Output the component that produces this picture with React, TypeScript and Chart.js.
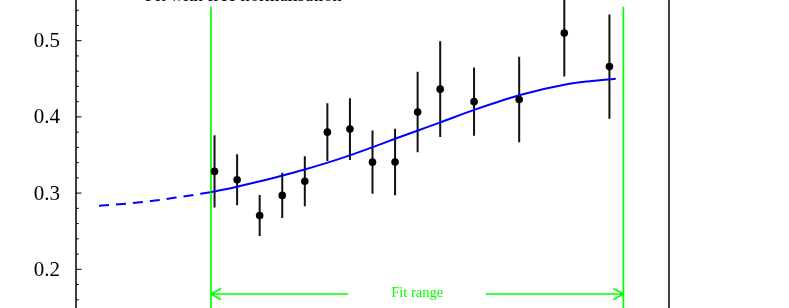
import React, { useEffect, useRef } from "react";
import { Chart, registerables } from "chart.js";

Chart.register(...registerables);

// ---- data ----
const pointX = [3.0, 3.5, 4.0, 4.5, 5.0, 5.5, 6.0, 6.5, 7.0, 7.5, 8.0, 8.75, 9.75, 10.75, 11.75];
const pointY = [0.3285, 0.3175, 0.2706, 0.297, 0.3155, 0.38, 0.384, 0.3406, 0.3408, 0.4064, 0.4364, 0.42, 0.4228, 0.51, 0.466];
const pointErr = [0.0475, 0.0335, 0.027, 0.0296, 0.0328, 0.038, 0.0405, 0.0414, 0.0437, 0.0529, 0.0628, 0.0447, 0.0562, 0.057, 0.0683];

const fitX = [2.92, 3.45, 3.96, 4.45, 4.96, 5.47, 5.98, 6.49, 6.97, 7.51, 7.99, 8.77, 9.79, 10.78, 11.31, 11.76, 11.89];
const fitY = [0.3013, 0.3078, 0.3148, 0.3222, 0.3303, 0.3393, 0.3492, 0.36, 0.3706, 0.3822, 0.3925, 0.4095, 0.429, 0.4425, 0.4468, 0.4495, 0.45];

const extrapX = [0.44, 1.12, 1.68, 2.23, 2.92];
const extrapY = [0.2835, 0.2866, 0.2902, 0.2949, 0.3013];

const fitRange = [2.92, 12.06];
const fitLineTop = 0.5446;
const arrowY = 0.1676;
const arrowGap = [5.96, 9.01];
const fitRangeLabel = "Fit range";
const titleText = "Fit with free normalisation";
const titlePos = { x: 1.46, y: 0.5522 };

const yTickLabels = [0.1, 0.2, 0.3, 0.4, 0.5, 0.6];
const X_MIN = -0.07;
const X_MAX = 13.07;
const Y_MIN = 0.1;
const Y_MAX = 0.6;

const GREEN = "#00ff00";
const BLUE = "#0000ff";
const SERIF = "'Liberation Serif', 'DejaVu Serif', serif";

const rootPlugin = {
  id: "rootStyle",
  beforeDatasetsDraw(chart: any) {
    const { ctx, chartArea } = chart;
    const xs = chart.scales.x;
    const ys = chart.scales.y;
    ctx.save();
    ctx.beginPath();
    ctx.rect(chartArea.left, chartArea.top, chartArea.right - chartArea.left, chartArea.bottom - chartArea.top);
    ctx.clip();
    ctx.strokeStyle = "#111";
    ctx.lineWidth = 2;
    for (let i = 0; i < pointX.length; i++) {
      const px = xs.getPixelForValue(pointX[i]);
      ctx.beginPath();
      ctx.moveTo(px, ys.getPixelForValue(pointY[i] + pointErr[i]));
      ctx.lineTo(px, ys.getPixelForValue(pointY[i] - pointErr[i]));
      ctx.stroke();
    }
    ctx.restore();
  },
  afterDraw(chart: any) {
    const { ctx, chartArea } = chart;
    const xs = chart.scales.x;
    const ys = chart.scales.y;
    ctx.save();
    // frame
    ctx.strokeStyle = "#000";
    ctx.lineWidth = 1.5;
    ctx.strokeRect(chartArea.left, chartArea.top, chartArea.right - chartArea.left, chartArea.bottom - chartArea.top);
    // y ticks inside
    ctx.lineWidth = 1;
    for (let k = 0; k <= 25; k++) {
      const v = Y_MIN + k * 0.02;
      const y = ys.getPixelForValue(v);
      const major = k % 5 === 0;
      ctx.beginPath();
      ctx.moveTo(chartArea.left, y);
      ctx.lineTo(chartArea.left + (major ? 5.5 : 2.8), y);
      ctx.stroke();
    }
    // y tick labels
    ctx.fillStyle = "#000";
    ctx.font = `21px ${SERIF}`;
    ctx.textAlign = "right";
    ctx.textBaseline = "middle";
    for (const v of yTickLabels) {
      ctx.fillText(v.toFixed(1), chartArea.left - 16, ys.getPixelForValue(v) + 1);
    }
    // fit range arrow
    const ay = ys.getPixelForValue(arrowY);
    const l = xs.getPixelForValue(fitRange[0]);
    const r = xs.getPixelForValue(fitRange[1]);
    const gl = xs.getPixelForValue(arrowGap[0]);
    const gr = xs.getPixelForValue(arrowGap[1]);
    ctx.strokeStyle = GREEN;
    ctx.lineWidth = 1.5;
    ctx.beginPath();
    ctx.moveTo(l, ay);
    ctx.lineTo(gl, ay);
    ctx.moveTo(l + 10, ay - 5.5);
    ctx.lineTo(l, ay);
    ctx.lineTo(l + 10, ay + 5.5);
    ctx.moveTo(gr, ay);
    ctx.lineTo(r, ay);
    ctx.moveTo(r - 10, ay - 5.5);
    ctx.lineTo(r, ay);
    ctx.lineTo(r - 10, ay + 5.5);
    ctx.stroke();
    ctx.fillStyle = GREEN;
    ctx.font = `14.5px ${SERIF}`;
    ctx.textAlign = "center";
    ctx.textBaseline = "alphabetic";
    ctx.fillText(fitRangeLabel, (l + r) / 2, ay + 3.5);
    // title text
    ctx.fillStyle = "#000";
    ctx.font = `18.4px ${SERIF}`;
    ctx.textAlign = "left";
    ctx.fillText(titleText, xs.getPixelForValue(titlePos.x), ys.getPixelForValue(titlePos.y));
    ctx.restore();
  },
};

export default function App() {
  const ref = useRef<HTMLCanvasElement>(null);
  useEffect(() => {
    if (!ref.current) return;
    const chart = new Chart(ref.current, {
      type: "scatter",
      data: {
        datasets: [
          {
            label: "fit",
            data: fitX.map((x, i) => ({ x, y: fitY[i] })),
            showLine: true,
            borderColor: BLUE,
            borderWidth: 2,
            pointRadius: 0,
            cubicInterpolationMode: "monotone",
            order: 2,
          },
          {
            label: "extrapolation",
            data: extrapX.map((x, i) => ({ x, y: extrapY[i] })),
            showLine: true,
            borderColor: BLUE,
            borderWidth: 2,
            borderDash: [10, 7],
            pointRadius: 0,
            cubicInterpolationMode: "monotone",
            order: 2,
          },
          {
            label: "fit range low",
            data: [
              { x: fitRange[0], y: fitLineTop },
              { x: fitRange[0], y: Y_MIN },
            ],
            showLine: true,
            borderColor: GREEN,
            borderWidth: 1.7,
            pointRadius: 0,
            order: 3,
          },
          {
            label: "fit range high",
            data: [
              { x: fitRange[1], y: fitLineTop },
              { x: fitRange[1], y: Y_MIN },
            ],
            showLine: true,
            borderColor: GREEN,
            borderWidth: 1.7,
            pointRadius: 0,
            order: 3,
          },
          {
            label: "data",
            data: pointX.map((x, i) => ({ x, y: pointY[i] })),
            showLine: false,
            pointRadius: 3.8,
            pointBackgroundColor: "#000",
            pointBorderColor: "#000",
            pointBorderWidth: 0,
            order: 1,
          },
        ],
      },
      options: {
        animation: false,
        responsive: false,
        devicePixelRatio: 1,
        layout: { padding: { left: 76, right: 120, top: 24.5, bottom: 24.5 } },
        plugins: { legend: { display: false }, tooltip: { enabled: false }, title: { display: false } },
        scales: {
          x: { type: "linear", min: X_MIN, max: X_MAX, display: false },
          y: { type: "linear", min: Y_MIN, max: Y_MAX, display: false },
        },
      },
      plugins: [rootPlugin],
    });
    return () => chart.destroy();
  }, []);
  return (
    <div style={{ position: "fixed", left: 0, top: -60, width: 789, height: 430, background: "#fff" }}>
      <canvas ref={ref} width={789} height={430} style={{ display: "block" }} />
    </div>
  );
}
